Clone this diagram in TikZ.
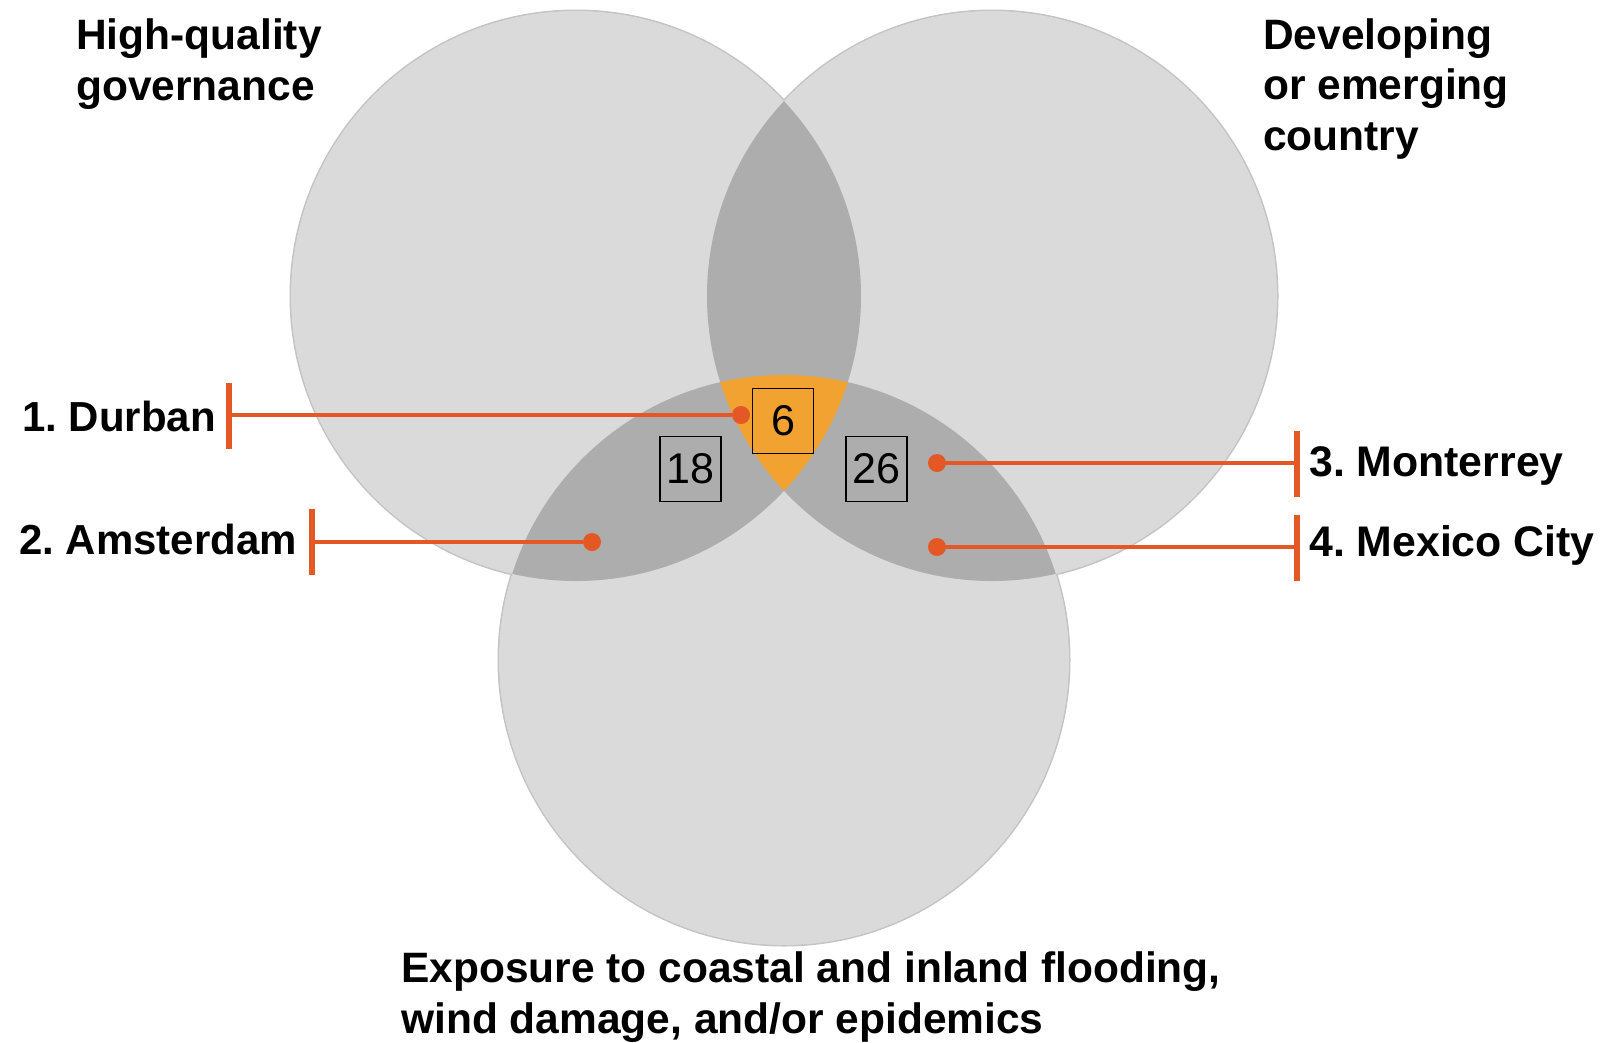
\documentclass[tikz,border=0pt]{standalone}
\usepackage{fontspec}
\setmainfont{Liberation Sans}
\definecolor{ringgray}{HTML}{C4C4C4}
\definecolor{vlight}{HTML}{DADADA}
\definecolor{vdark}{HTML}{ADADAD}
\definecolor{vorange}{RGB}{241,162,48}
\definecolor{linecol}{RGB}{228,88,38}
\begin{document}
\frenchspacing
\begin{tikzpicture}[x=1pt,y=-1pt,
  ring/.style={draw=ringgray, line width=3pt},
  numbox/.style={draw=black, line width=1.6pt, minimum width=61pt, minimum height=65pt, inner sep=0pt, font=\fontsize{43}{43}\selectfont},
  cdot/.style={circle, fill=linecol, minimum size=18pt, inner sep=0pt},
  bar/.style={rectangle, fill=linecol, minimum width=5.5pt, minimum height=66pt, inner sep=0pt},
  conn/.style={draw=linecol, line width=4.8pt},
  lab/.style={font=\fontsize{42.5}{50.5}\selectfont\bfseries, inner sep=0pt, align=left},
  citylab/.style={font=\fontsize{42}{50}\selectfont\bfseries, inner sep=0pt},
  citylabr/.style={font=\fontsize{42.8}{50}\selectfont\bfseries, inner sep=0pt},
]
\fill[white] (0,0) rectangle (1604,1042);
\useasboundingbox (0,0) rectangle (1604,1042);

\coordinate (cL) at (576,296);
\coordinate (cR) at (992,296);
\coordinate (cB) at (784,660);

% outlines
\draw[ring] (cL) circle (285pt);
\draw[ring] (cR) circle (285pt);
\draw[ring] (cB) circle (285pt);
% single fills
\fill[vlight] (cL) circle (285pt);
\fill[vlight] (cR) circle (285pt);
\fill[vlight] (cB) circle (285pt);
% double overlaps
\begin{scope}
  \clip (cL) circle (285pt);
  \fill[vdark] (cR) circle (285pt);
  \fill[vdark] (cB) circle (285pt);
\end{scope}
\begin{scope}
  \clip (cR) circle (285pt);
  \fill[vdark] (cB) circle (285pt);
\end{scope}
% triple overlap
\begin{scope}
  \clip (cL) circle (285pt);
  \clip (cR) circle (285pt);
  \fill[vorange] (cB) circle (285pt);
\end{scope}

% number boxes
\node[numbox] (n6) at (783,421) {6};
\node[numbox] (n18) at (690.5,469) {18};
\node[numbox] (n26) at (876.5,469) {26};

% titles (base anchor = baseline of last line)
\node[lab, anchor=base west] (tHQ) at (76,100) {High-quality\\governance};
\node[lab, anchor=base west] (tDev) at (1263,150) {Developing\\or emerging\\country};
\node[lab, anchor=base west] (tExp) at (401,1033) {Exposure to coastal and inland flooding,\\wind damage, and/or epidemics};

% city markers
\node[cdot] (d1) at (741,415) {};
\node[cdot] (d2) at (592,542) {};
\node[cdot] (d3) at (937,463) {};
\node[cdot] (d4) at (937,547) {};

\node[bar] (b1) at (229,416) {};
\node[bar] (b2) at (312,542) {};
\node[bar] (b3) at (1297,464) {};
\node[bar] (b4) at (1297,548) {};

\draw[conn] (d1) -- (d1 -| b1.east);
\draw[conn] (d2) -- (d2 -| b2.east);
\draw[conn] (d3) -- (d3 -| b3.west);
\draw[conn] (d4) -- (d4 -| b4.west);

\node[citylab, anchor=base east] (l1) at (216,431) {1. Durban};
\node[citylab, anchor=base east] (l2) at (297,554) {2. Amsterdam};
\node[citylabr, anchor=base west] (l3) at (1309,476) {3. Monterrey};
\node[citylabr, anchor=base west] (l4) at (1309,556) {4. Mexico City};
\end{tikzpicture}
\end{document}
